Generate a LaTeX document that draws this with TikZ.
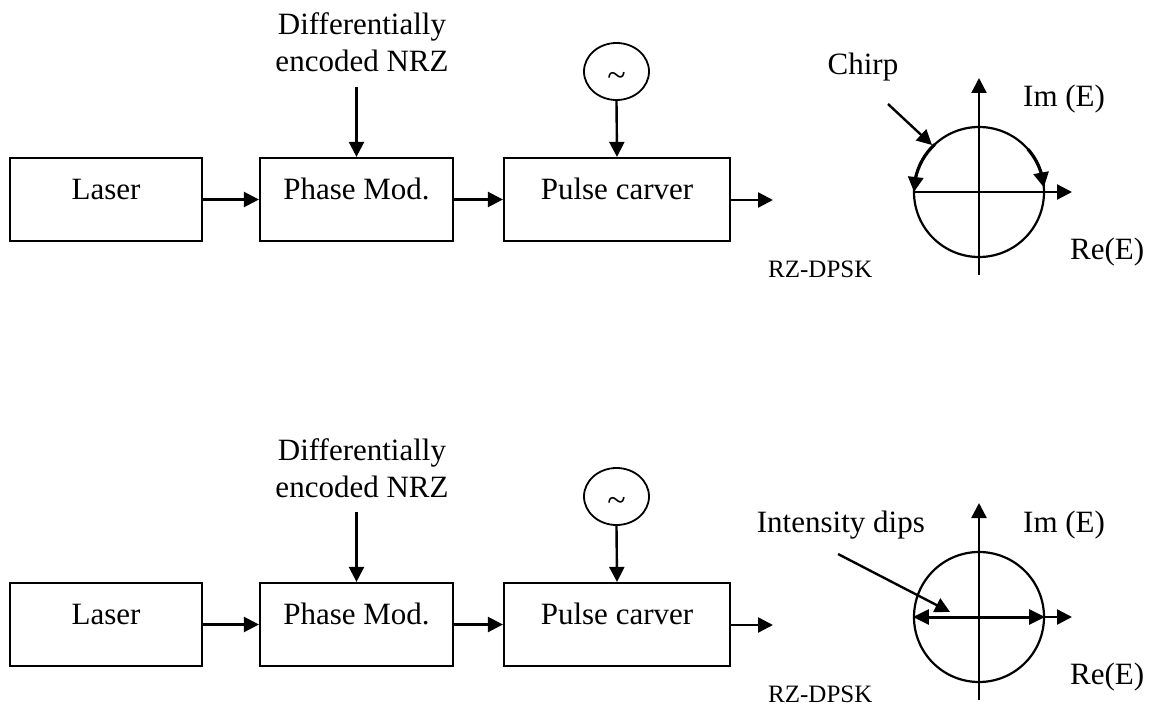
\documentclass[tikz,border=0pt]{standalone}
\usepackage{fontspec}
\setmainfont{Liberation Serif}
\usetikzlibrary{arrows.meta,shapes.geometric,bending}

\begin{document}
\begin{tikzpicture}[x=1pt,y=-1pt,
  box/.style={draw, line width=2.2pt, rectangle, inner sep=0pt, minimum height=83pt,
              text height=20pt, text depth=20pt, font=\fontsize{31}{37}\selectfont},
  arr/.style={line width=2.4pt, -{Triangle[length=15pt,width=15pt]}},
  darr/.style={line width=3pt, {Triangle[length=16pt,width=15pt]}-{Triangle[length=16pt,width=15pt]}},
  lbl/.style={inner sep=0pt, font=\fontsize{31}{37}\selectfont},
  small/.style={inner sep=0pt, font=\fontsize{25}{30}\selectfont},
  osc/.style={draw, ellipse, line width=1.8pt, minimum width=65pt, minimum height=57pt, inner sep=0pt},
  phasor/.style={draw, circle, line width=2.2pt, minimum size=130pt, inner sep=0pt},
  thickarc/.style={line width=3.2pt, -{Triangle[length=15pt,width=15pt]}},
]
\useasboundingbox (0,0) rectangle (1160,706);

\foreach \k/\dy in {1/0, 2/425}{
  \begin{scope}[shift={(0,\dy)}]
    % blocks
    \node[box, minimum width=192pt] (laser\k) at (106,199.5) {Laser};
    \node[box, minimum width=193pt] (phase\k) at (356.5,199.5) {Phase Mod.};
    \node[box, minimum width=226pt] (pulse\k) at (617,199.5) {Pulse carver};
    % inputs
    \node[lbl, align=center, anchor=base] (nrz\k) at (362,72) {Differentially\\encoded NRZ};
    \coordinate (nrzin\k) at (356.5,87);
    \node[osc] (osc\k) at (616.5,71.5) {};
    \node[inner sep=0pt, font=\fontsize{34}{36}\selectfont] (tilde\k) at ([yshift=-8pt]osc\k.center) {\textasciitilde};
    \coordinate (out\k) at (773,200);
    % connectors
    \draw[arr] (nrzin\k) -- (phase\k.north);
    \draw[arr] (osc\k.south) -- (pulse\k.north);
    \draw[arr] (laser\k) -- (phase\k);
    \draw[arr] (phase\k) -- (pulse\k);
    \draw[arr] (pulse\k.east |- out\k) -- (out\k);
    % phasor
    \node[phasor] (ph\k) at (979,192) {};
    \coordinate (phc\k) at (979,192);
    \coordinate (vb\k) at (979,275);
    \coordinate (vt\k) at (979,78);
    \coordinate (hr\k) at (1072,192);
    \draw[arr] (vb\k) -- (vt\k);
    \draw[arr] (ph\k.west) -- (hr\k);
    \node[lbl, anchor=base west] (im\k) at (1023,107) {Im (E)};
    \node[lbl, anchor=base west] (re\k) at (1070,259) {Re(E)};
    \node[small, anchor=base west] (rz\k) at (768,277) {RZ-DPSK};
  \end{scope}
}

% top: chirp
\node[lbl, anchor=base] (chirp) at (863,75) {Chirp};
\coordinate (chs) at (888,104);
\coordinate (che) at (932,145);
\draw[arr] (chs) -- (che);
\draw[thickarc] ([shift={(-133:65)}]phc1) arc[start angle=-133, end angle=-180, radius=65];
\draw[thickarc] ([shift={(-41:65)}]phc1) arc[start angle=-41, end angle=-4, radius=65];

% bottom: intensity dips
\node[lbl, anchor=base east] (dips) at (925,532) {Intensity dips};
\coordinate (ids) at (838,554);
\coordinate (ide) at (950,612);
\draw[arr] (ids) -- (ide);
\draw[darr] (ph2.west) -- (ph2.east);
\end{tikzpicture}
\end{document}
